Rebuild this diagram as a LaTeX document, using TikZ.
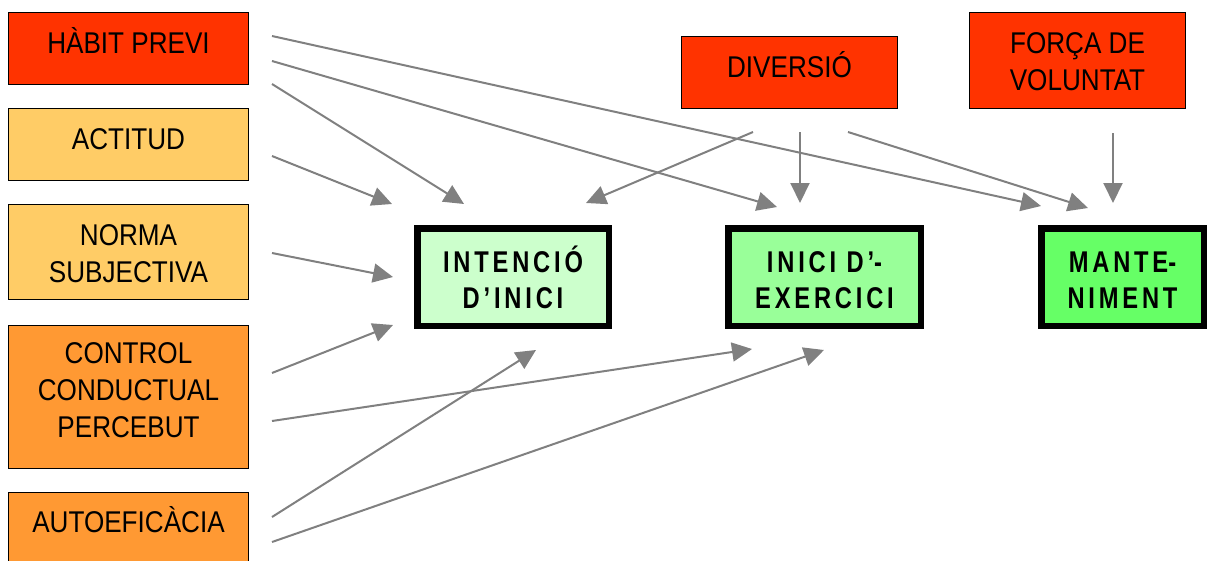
\documentclass[tikz,border=0pt]{standalone}
\usepackage{fontspec}
\setmainfont{Liberation Sans}
\newfontfamily\factorfont[FakeStretch=0.87]{Liberation Sans}
\newfontfamily\stagefont[FakeStretch=0.79,LetterSpace=12.7]{Liberation Sans Bold}
\usetikzlibrary{arrows.meta}

\definecolor{hotred}{HTML}{FF3300}
\definecolor{paleorange}{HTML}{FFCC66}
\definecolor{midorange}{HTML}{FF9933}
\definecolor{greenA}{HTML}{CCFFCC}
\definecolor{greenB}{HTML}{99FF99}
\definecolor{greenC}{HTML}{66FF66}
\definecolor{linkgray}{HTML}{808080}

\begin{document}
\begin{tikzpicture}[x=1pt,y=-1pt,
  factor/.style={draw=black, line width=1.5pt, rectangle, inner sep=0pt,
    align=center, font=\factorfont\fontsize{30}{37}\selectfont, text depth=13pt},
  stage/.style={draw=black, line width=6.5pt, rectangle, inner sep=0pt,
    align=center, font=\stagefont\fontsize{30}{36}\selectfont,
    text height=75pt, text depth=13pt, minimum height=97.5pt},
  link/.style={draw=linkgray, line width=2pt, -{Triangle[length=20pt,width=19pt]}}
]
\useasboundingbox (0,0) rectangle (1208,560);

% antecedent factors (left column)
\node[factor, fill=hotred, minimum width=240pt, minimum height=72pt, text height=22pt]
  (habit) at (128.5,48.5) {HÀBIT PREVI};
\node[factor, fill=paleorange, minimum width=240pt, minimum height=72pt, text height=22pt]
  (actitud) at (128.5,144.5) {ACTITUD};
\node[factor, fill=paleorange, minimum width=240pt, minimum height=95pt, text height=73pt]
  (norma) at (128.5,252) {NORMA\\SUBJECTIVA};
\node[factor, fill=midorange, minimum width=240pt, minimum height=143pt, text height=93pt]
  (control) at (128.5,397) {CONTROL\\CONDUCTUAL\\PERCEBUT};
\node[factor, fill=midorange, minimum width=240pt, minimum height=72pt, text height=20pt]
  (autoef) at (128.5,528.5) {AUTOEFICÀCIA};

% top factors
\node[factor, fill=hotred, minimum width=216pt, minimum height=72pt, text height=22pt]
  (diversio) at (789.5,72.5) {DIVERSIÓ};
\node[factor, fill=hotred, minimum width=216pt, minimum height=96pt, text height=73.4pt]
  (forca) at (1077.5,60.5) {FORÇA DE\\VOLUNTAT};

% stages
\node[stage, fill=greenA, minimum width=191.5pt] (intencio) at (513,277) {INTENCIÓ\\D’INICI};
\node[stage, fill=greenB, minimum width=192.5pt] (inici) at (824.5,277) {INICI D’\hbox{-}\\EXERCICI};
\node[stage, fill=greenC, minimum width=162.5pt] (mante) at (1122.5,277) {MANTE\hbox{-}\\NIMENT};

% connector ends
\coordinate (hA) at (272,36);   \coordinate (hAe) at (1041,206);
\coordinate (hB) at (272,61);   \coordinate (hBe) at (777,207);
\coordinate (hC) at (272,84);   \coordinate (hCe) at (464,204);
\coordinate (ac) at (272,156);  \coordinate (ace) at (392,204);
\coordinate (no) at (272,253);  \coordinate (noe) at (393,277);
\coordinate (cA) at (272,373);  \coordinate (cAe) at (393,325);
\coordinate (cB) at (272,421);  \coordinate (cBe) at (752,349);
\coordinate (aA) at (272,517);  \coordinate (aAe) at (536,350);
\coordinate (aB) at (272,542);  \coordinate (aBe) at (824,350);
\coordinate (dA) at (753,132);  \coordinate (dAe) at (586,203);
\coordinate (dB) at (800,132);  \coordinate (dBe) at (800,203);
\coordinate (dC) at (848,132);  \coordinate (dCe) at (1088,208);
\coordinate (fA) at (1113,133); \coordinate (fAe) at (1113,203);

\draw[link] (hA) -- (hAe);
\draw[link] (hB) -- (hBe);
\draw[link] (hC) -- (hCe);
\draw[link] (ac) -- (ace);
\draw[link] (no) -- (noe);
\draw[link] (cA) -- (cAe);
\draw[link] (cB) -- (cBe);
\draw[link] (aA) -- (aAe);
\draw[link] (aB) -- (aBe);
\draw[link] (dA) -- (dAe);
\draw[link] (dB) -- (dBe);
\draw[link] (dC) -- (dCe);
\draw[link] (fA) -- (fAe);
\end{tikzpicture}
\end{document}
